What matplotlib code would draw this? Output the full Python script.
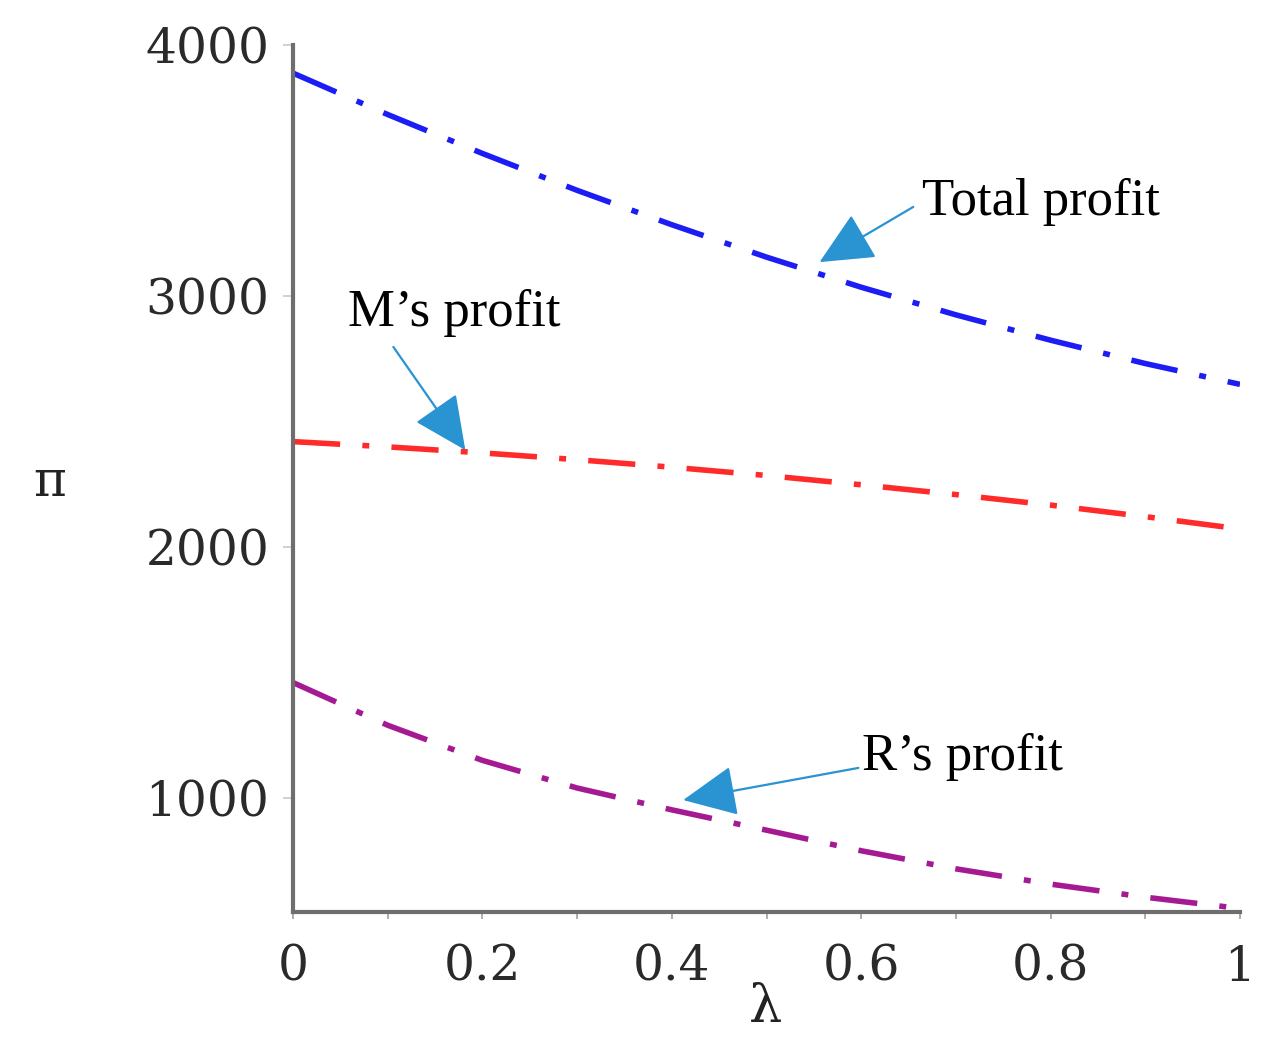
import matplotlib
matplotlib.use("Agg")
import matplotlib.pyplot as plt
import numpy as np

lam = [0.0, 0.1, 0.2, 0.3, 0.4, 0.5, 0.6, 0.7, 0.8, 0.9, 1.0]
total_profit = [3888, 3723, 3568, 3421, 3284, 3155, 3035, 2925, 2824, 2731, 2648]
m_profit = [2420, 2399, 2375, 2348, 2318, 2285, 2248, 2209, 2167, 2121, 2072]
r_profit = [1460, 1290, 1150, 1040, 953, 872, 790, 718, 657, 605, 560]

xticks = [0, 0.2, 0.4, 0.6, 0.8, 1.0]
xticklabels = ["0", "0.2", "0.4", "0.6", "0.8", "1"]
yticks = [1000, 2000, 3000, 4000]
yticklabels = ["1000", "2000", "3000", "4000"]

plt.rcParams['lines.scale_dashes'] = False

W, H = 1288, 1063
fig = plt.figure(figsize=(W / 100, H / 100), dpi=100)
ax = fig.add_axes([293 / W, 1 - 912 / H, (1240 - 293) / W, (912 - 45) / H])

dash = (0, (34, 16, 5, 16))
ax.plot(lam, total_profit, color='#1c1cf5', lw=4.0, linestyle=dash, dash_capstyle='butt')
ax.plot(lam, m_profit, color='#ff2a2a', lw=4.0, linestyle=dash, dash_capstyle='butt')
ax.plot(lam, r_profit, color='#a51a93', lw=4.0, linestyle=dash, dash_capstyle='butt')

ax.set_xlim(0, 1)
ax.set_ylim(546, 4000)

for s in ['top', 'right']:
    ax.spines[s].set_visible(False)
for s in ['left', 'bottom']:
    ax.spines[s].set_color('#6e6e6e')
    ax.spines[s].set_linewidth(3.0)

tick_font = dict(family='DejaVu Serif', size=35, color='#2a2a2a')
ax.set_xticks(xticks)
ax.set_xticklabels(xticklabels, fontdict=tick_font)
ax.set_yticks(yticks)
ax.set_yticklabels(yticklabels, fontdict=tick_font)
ax.set_xticks(np.arange(0, 1.01, 0.1), minor=True)
ax.tick_params(axis='y', which='major', direction='out', length=7, width=1.2, color='#c8c8c8', pad=10)
ax.tick_params(axis='x', which='both', direction='out', length=5, width=1.2, color='#a0a0a0', pad=18)

fig.text(50 / W, 1 - 482 / H, 'π', fontsize=36, ha='center', va='center',
         family='DejaVu Serif', color='#222222')
fig.text(766 / W, 1 - 1008 / H, 'λ', fontsize=38, ha='center', va='center',
         family='DejaVu Serif', color='#222222')

arrow_col = '#2a93d2'
ap = dict(arrowstyle='-|>,head_length=1.7,head_width=0.8', mutation_scale=20,
          color=arrow_col, lw=1.6, shrinkA=0, shrinkB=0)
lab_font = dict(family='Liberation Serif', size=38, color='black')

ax.text(0.664, 3375, 'Total profit', ha='left', va='center', fontdict=lab_font)
ax.annotate('', xy=(0.556, 3135), xytext=(0.655, 3355), arrowprops=ap)

ax.text(0.058, 2932, 'M\u2019s profit', ha='left', va='center', fontdict=lab_font)
ax.annotate('', xy=(0.182, 2386), xytext=(0.106, 2797), arrowprops=ap)

ax.text(0.601, 1163, 'R\u2019s profit', ha='left', va='center', fontdict=lab_font)
ax.annotate('', xy=(0.412, 992), xytext=(0.597, 1120), arrowprops=ap)

fig.savefig('out.png', dpi=100, facecolor='white')
